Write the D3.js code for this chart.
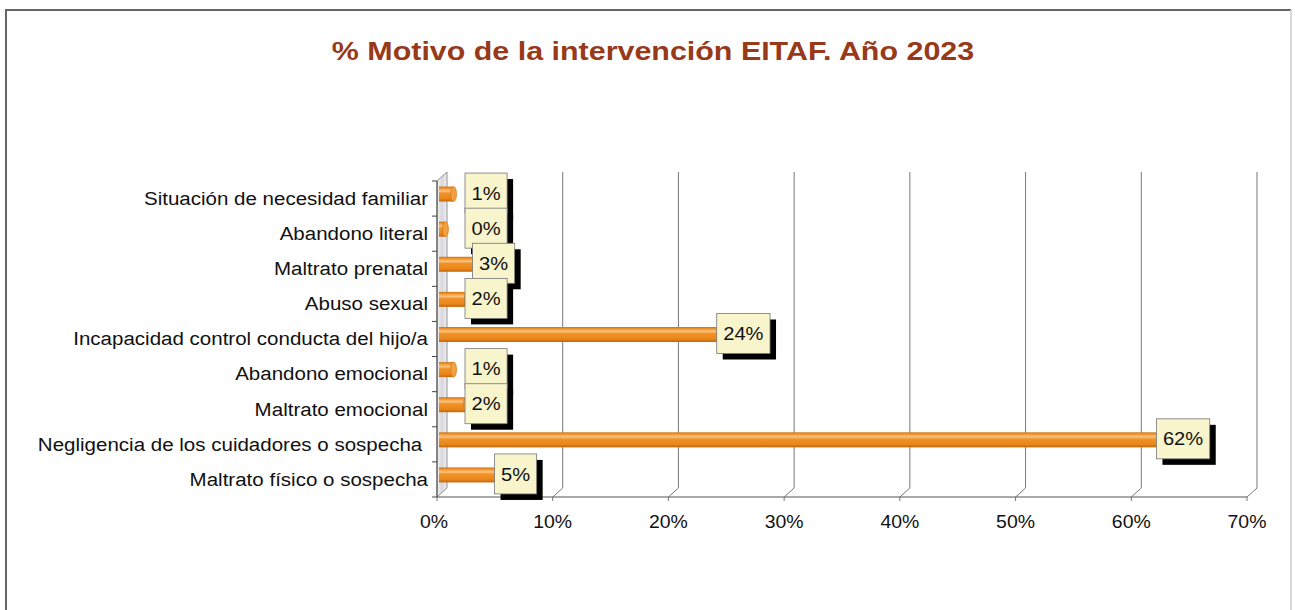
<!DOCTYPE html>
<html>
<head>
<meta charset="utf-8">
<script src="https://cdn.jsdelivr.net/npm/d3@7"></script>
<style>
  body { margin: 0; background: #fff; }
  svg { display: block; font-family: Arial, "Liberation Sans", sans-serif; }
</style>
</head>
<body>
<div id="chart"></div>
<script>
// categories top to bottom, as in the picture
const categories = [
  "Situación de necesidad familiar",
  "Abandono literal",
  "Maltrato prenatal",
  "Abuso sexual",
  "Incapacidad control conducta del hijo/a",
  "Abandono emocional",
  "Maltrato emocional",
  "Negligencia de los cuidadores o sospecha ",
  "Maltrato físico o sospecha"
]
const values = [1.0, 0.3, 2.9, 2.2, 24.0, 1.0, 2.1, 62.0, 4.8]
const valueLabels = ["1%", "0%", "3%", "2%", "24%", "1%", "2%", "62%", "5%"]
const xTicks = [0, 10, 20, 30, 40, 50, 60, 70]
const title = "% Motivo de la intervención EITAF. Año 2023"

const W = 1295, H = 610
// 3d depth offset (back wall vs front plane)
const depth = { dx: 10, dy: -9 }
const backTop = 172, backBottom = 488

// the original font is a bit wider than Arial, stretch text horizontally
function stretch(sel, k) {
  sel.each(function () {
    const w = this.getComputedTextLength()
    d3.select(this).attr("textLength", w * k).attr("lengthAdjust", "spacingAndGlyphs")
  })
}

const svg = d3.select("#chart").append("svg")
  .attr("width", W).attr("height", H)

// outer frame
svg.append("path")
  .attr("d", "M6,612 L6,10 L1291,10")
  .attr("fill", "none").attr("stroke", "#666").attr("stroke-width", 2)
svg.append("line")
  .attr("x1", 1291).attr("x2", 1291).attr("y1", 10).attr("y2", 612)
  .attr("stroke", "#ccc").attr("stroke-width", 1.5)

svg.append("text")
  .attr("x", 653).attr("y", 60)
  .attr("text-anchor", "middle")
  .attr("font-size", 26).attr("font-weight", "bold")
  .attr("fill", "#983a1a")
  .text(title)
  .call(stretch, 1.17)

const defs = svg.append("defs")
const barGrad = defs.append("linearGradient").attr("id", "barGrad")
  .attr("x1", 0).attr("x2", 0).attr("y1", 0).attr("y2", 1)
barGrad.selectAll("stop")
  .data([[0, "#d0700c"], [0.14, "#f29a35"], [0.3, "#fbc27e"], [0.45, "#f09228"], [0.8, "#e8861a"], [1, "#c4660a"]])
  .enter().append("stop")
  .attr("offset", d => d[0]).attr("stop-color", d => d[1])
const wallGrad = defs.append("linearGradient").attr("id", "wallGrad")
  .attr("x1", 0).attr("x2", 1).attr("y1", 0).attr("y2", 0)
wallGrad.selectAll("stop")
  .data([[0, "#f4f4f4"], [0.5, "#d6d6dc"], [1, "#f2f2f2"]])
  .enter().append("stop")
  .attr("offset", d => d[0]).attr("stop-color", d => d[1])

// scales: x on the front plane, y bands on the back wall
const x = d3.scaleLinear().domain([0, 70]).range([437, 1247])
const yBack = d3.scaleBand().domain(categories).range([backTop, backBottom])
const frontBottom = backBottom - depth.dy

// left wall
svg.append("path")
  .attr("d", `M${x(0)},${backTop - depth.dy} L${x(0) + depth.dx},${backTop} L${x(0) + depth.dx},${backBottom} L${x(0)},${frontBottom} Z`)
  .attr("fill", "url(#wallGrad)").attr("stroke", "#777").attr("stroke-width", 0.8)

// gridlines on back wall + floor diagonals + ticks
const grid = svg.append("g").attr("stroke", "#777").attr("fill", "none").attr("stroke-width", 1)
xTicks.forEach(t => {
  const xf = x(t), xb = x(t) + depth.dx
  grid.append("path")
    .attr("d", t === 0
      ? `M${xf},${frontBottom} L${xf},${frontBottom + 4}`
      : `M${xb},${backTop} L${xb},${backBottom} L${xf},${frontBottom} L${xf},${frontBottom + 4}`)
})
// floor front edge
grid.append("line")
  .attr("x1", x(0)).attr("x2", x(70))
  .attr("y1", frontBottom).attr("y2", frontBottom)
  .attr("stroke", "#555")

// y axis on front plane
svg.append("line")
  .attr("x1", x(0)).attr("x2", x(0))
  .attr("y1", backTop - depth.dy).attr("y2", frontBottom)
  .attr("stroke", "#444")
const bounds = categories.map(c => yBack(c)).concat([backBottom])
svg.append("g").selectAll("line")
  .data(bounds).enter().append("line")
  .attr("x1", x(0) - 5).attr("x2", x(0))
  .attr("y1", d => d - depth.dy).attr("y2", d => d - depth.dy)
  .attr("stroke", "#444")

// category labels
svg.append("g").selectAll("text")
  .data(categories).enter().append("text")
  .attr("x", 428)
  .attr("y", d => yBack(d) + yBack.bandwidth() / 2 - depth.dy)
  .attr("dy", "0.35em")
  .attr("text-anchor", "end")
  .attr("font-size", 18)
  .attr("fill", "#111")
  .style("white-space", "pre")
  .text(d => d)
  .call(stretch, 1.14)

// x tick labels
svg.append("g").selectAll("text")
  .data(xTicks).enter().append("text")
  .attr("x", d => x(d) - (d === 0 ? 3 : 0))
  .attr("y", frontBottom + 31)
  .attr("text-anchor", "middle")
  .attr("font-size", 18)
  .attr("fill", "#111")
  .text(d => d + "%")
  .call(stretch, 1.08)

// cylinders at mid depth
const barH = 15
const midX = v => x(v) + depth.dx / 2
const midY = c => yBack(c) + yBack.bandwidth() / 2 - depth.dy / 2
const rows = categories.map((c, i) => ({ c, v: values[i], lab: valueLabels[i] }))

const bars = svg.append("g").selectAll("g")
  .data(rows).enter().append("g")
bars.append("rect")
  .attr("x", midX(0) - 3)
  .attr("y", d => midY(d.c) - barH / 2)
  .attr("width", d => Math.max(0, midX(d.v) - midX(0) + 3))
  .attr("height", barH)
  .attr("fill", "url(#barGrad)")
bars.append("ellipse")
  .attr("cx", d => midX(d.v))
  .attr("cy", d => midY(d.c))
  .attr("rx", 3).attr("ry", barH / 2)
  .attr("fill", "#f2a040").attr("stroke", "#d07010").attr("stroke-width", 0.6)

// value label boxes with black shadow
const boxes = svg.append("g").selectAll("g")
  .data(rows).enter().append("g")
boxes.each(function (d) {
  const g = d3.select(this)
  const t = g.append("text")
    .attr("font-size", 19).attr("fill", "#111")
    .attr("text-anchor", "middle").attr("dy", "0.35em")
    .text(d.lab)
  const tw = t.node().getComputedTextLength() * 1.06
  t.attr("textLength", tw).attr("lengthAdjust", "spacingAndGlyphs")
  const bw = tw + 13, bh = 40
  const bx = Math.max(midX(d.v) - 3, 465)
  const by = midY(d.c) - 1 - bh / 2
  g.insert("rect", "text")
    .attr("x", bx + 6).attr("y", by + 6).attr("width", bw).attr("height", bh)
    .attr("fill", "#000")
  g.insert("rect", "text")
    .attr("x", bx).attr("y", by).attr("width", bw).attr("height", bh)
    .attr("fill", "#f8f4cc").attr("stroke", "#777").attr("stroke-width", 0.8)
  t.attr("x", bx + bw / 2).attr("y", by + bh / 2)
})
</script>
</body>
</html>
